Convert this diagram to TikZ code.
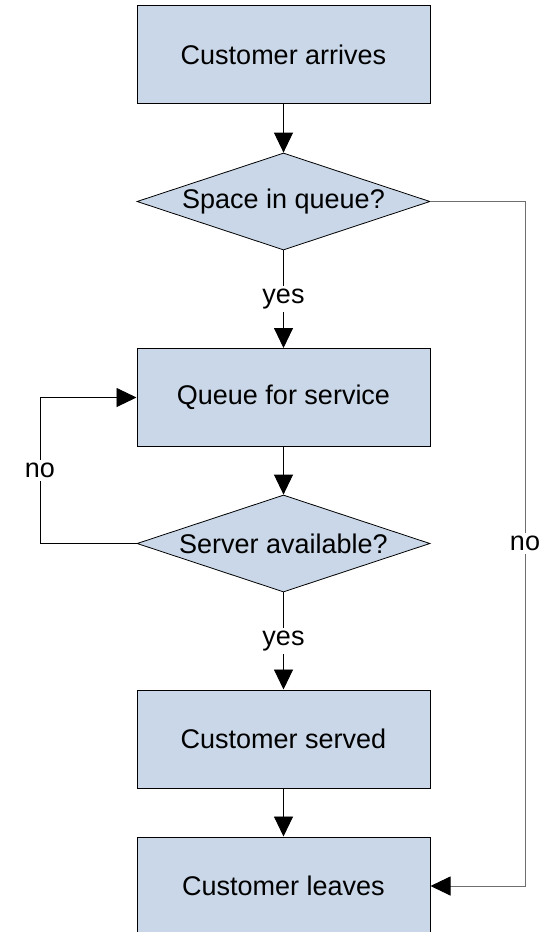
\documentclass[tikz,border=0pt]{standalone}
\usepackage{fontspec}
\setmainfont{Liberation Sans}
\usetikzlibrary{shapes.geometric,arrows.meta}
\definecolor{boxfill}{RGB}{201,215,232}
\definecolor{greyline}{RGB}{110,110,110}
\begin{document}
\begin{tikzpicture}[x=1pt,y=-1pt,
  every node/.style={font=\fontsize{27}{30}\selectfont},
  procbox/.style={draw=black,line width=1pt,fill=boxfill,minimum width=293pt,minimum height=98pt,inner sep=0pt},
  decision/.style={draw=black,line width=0.8pt,fill=boxfill,diamond,aspect=3.02,minimum width=293pt,minimum height=97pt,inner sep=0pt},
  flow/.style={line width=0.9pt,-{Triangle[length=20pt,width=19pt,color=black]}},
  lbl/.style={fill=white,inner sep=3pt}]
\useasboundingbox (0,0) rectangle (552,932);
\clip (0,0) rectangle (552,932);
\node[procbox] (arr) at (283.5,54.5) {Customer arrives};
\node[decision] (q1) at (283.5,201.5) {Space in queue?};
\node[procbox] (que) at (283.5,397.5) {Queue for service};
\node[decision] (q2) at (283.5,543.5) {Server available?};
\node[procbox] (srv) at (283.5,739) {Customer served};
\node[procbox] (lv) at (283.5,886) {Customer leaves};
\coordinate (lc1) at (40,543.5);
\coordinate (lc2) at (40,397.5);
\coordinate (rc1) at (525,201.5);
\coordinate (rc2) at (525,886);
\draw[flow] (arr) -- (q1);
\draw[flow] (q1) -- node[lbl] {yes} (que);
\draw[flow] (que) -- (q2);
\draw[flow] (q2) -- node[lbl] {yes} (srv);
\draw[flow] (srv) -- (lv);
\draw[flow] (q2.west) -- (lc1) -- node[lbl,pos=0.5] {no} (lc2) -- (que.west);
\draw[flow,draw=greyline] (q1.east) -- (rc1) -- node[lbl,pos=0.5,text=black] {no} (rc2) -- (lv.east);
\end{tikzpicture}
\end{document}
